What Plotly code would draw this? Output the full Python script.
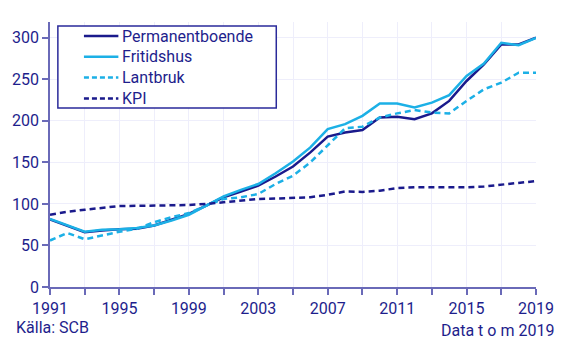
import plotly.graph_objects as go

years = list(range(1991, 2020))
permanentboende = [81.5, 74, 66, 68, 69.5, 70, 74, 81, 88, 98, 108, 115, 122, 133, 145, 162, 181, 186, 189, 204, 205, 202, 209, 224, 248, 268, 292, 292, 300]
fritidshus = [82, 74, 66.5, 69, 69.5, 71, 74, 80, 87, 98, 109, 117, 124, 137, 151, 168, 190, 196, 206, 221, 221, 216, 222, 231, 254, 269, 294, 291, 300]
lantbruk = [56, 65, 57.5, 62, 66.5, 70, 78, 84, 89, 98, 106, 108, 112, 124, 134, 150, 170, 191, 193, 204, 209, 213, 210, 209, 224, 238, 246, 258, 258]
kpi = [87, 90.5, 93, 95.5, 97.5, 97.7, 98, 98.4, 98.7, 100, 102, 104, 106, 106.5, 107, 108, 111, 115, 114.5, 116, 119, 120, 120, 120, 120, 121, 123, 125, 127.5]
series_names = ["Permanentboende", "Fritidshus", "Lantbruk", "KPI"]

x_tickvals = list(range(1991, 2020, 2))
x_ticktext = [str(y) if (y - 1991) % 4 == 0 else "" for y in x_tickvals]
y_tickvals = [0, 50, 100, 150, 200, 250, 300]

NAVY = "#1a1a8c"
LIGHT = "#1cb0e6"
TEXT = "#1e1e8c"
AXIS = "#6a6ab8"
GRID = "#eeeefb"
DASH = "6px,4px"

styles = [
    dict(color=NAVY, width=2.5),
    dict(color=LIGHT, width=2.5),
    dict(color=LIGHT, width=2.5, dash=DASH),
    dict(color=NAVY, width=2.5, dash=DASH),
]
data = [permanentboende, fritidshus, lantbruk, kpi]

fig = go.Figure()
for name, vals, st in zip(series_names, data, styles):
    fig.add_trace(go.Scatter(x=years, y=vals, name=name, mode="lines", line=st))

L, R, T, B = 46, 26, 22, 54
W, H = 566, 341
pw, ph = W - L - R, H - T - B

def px2paper_x(px):
    return (px - L) / pw

def px2paper_y(py):
    return (H - B - py) / ph

# legend box drawn manually (layout decoration)
shapes = [dict(type="rect", xref="paper", yref="paper",
               x0=px2paper_x(54), x1=px2paper_x(276), y0=px2paper_y(108), y1=px2paper_y(26),
               line=dict(color="#2a2a9a", width=1.5), fillcolor="white", layer="above")]
annotations = []
row_y = [36, 56.8, 77.6, 98.4]
for name, st, ry in zip(series_names, styles, row_y):
    ln = dict(color=st["color"], width=2.5)
    if "dash" in st:
        ln["dash"] = "5px,3px"
    shapes.append(dict(type="line", xref="paper", yref="paper",
                       x0=px2paper_x(80.5), x1=px2paper_x(115.5),
                       y0=px2paper_y(ry), y1=px2paper_y(ry), line=ln, layer="above"))
    annotations.append(dict(text=name, xref="paper", yref="paper",
                            x=px2paper_x(117.5), y=px2paper_y(ry),
                            xanchor="left", yanchor="middle", showarrow=False,
                            font=dict(size=16, color=TEXT)))

annotations += [
    dict(text="Källa: SCB", xref="paper", yref="paper", x=px2paper_x(9), y=px2paper_y(327),
         xanchor="left", yanchor="middle", showarrow=False, font=dict(size=16, color=TEXT)),
    dict(text="Data t o m 2019", xref="paper", yref="paper", x=px2paper_x(560), y=px2paper_y(330),
         xanchor="right", yanchor="middle", showarrow=False, font=dict(size=16, color=TEXT)),
]

fig.update_layout(
    width=W, height=H,
    margin=dict(l=L, r=R, t=T, b=B),
    paper_bgcolor="white", plot_bgcolor="white",
    font=dict(family="Roboto", size=16, color=TEXT),
    showlegend=False,
    xaxis=dict(range=[1991, 2019], tickvals=x_tickvals, ticktext=x_ticktext,
               showgrid=True, gridcolor=GRID, gridwidth=1,
               showline=True, linecolor=AXIS, linewidth=1.5,
               ticks="outside", ticklen=6, tickcolor=AXIS, tickwidth=1.5,
               zeroline=False, fixedrange=True),
    yaxis=dict(range=[0, 319], tickvals=y_tickvals,
               showgrid=True, gridcolor=GRID, gridwidth=1,
               showline=True, linecolor=AXIS, linewidth=1.5,
               ticks="outside", ticklen=6, tickcolor=AXIS, tickwidth=1.5,
               zeroline=False, fixedrange=True),
    shapes=shapes,
    annotations=annotations,
)

fig.write_html("out.html")
